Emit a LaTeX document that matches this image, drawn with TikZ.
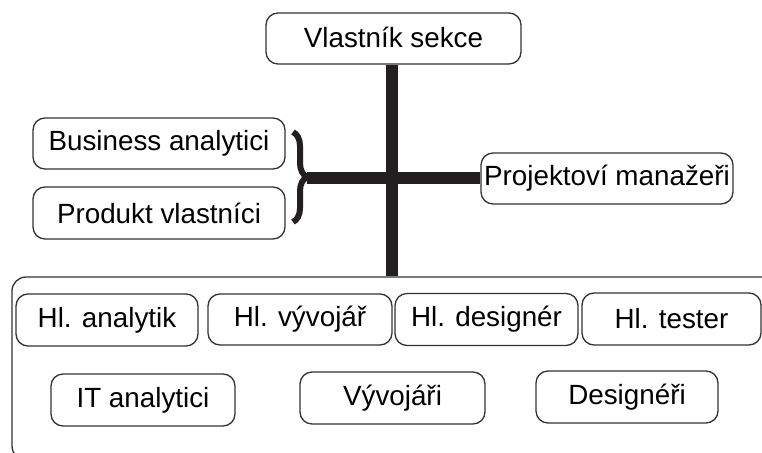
\documentclass[tikz,border=0pt]{standalone}
\usepackage{fontspec}
\setmainfont{Liberation Sans}
\usetikzlibrary{decorations.pathreplacing}
\definecolor{edge}{HTML}{333333}
\definecolor{bar}{HTML}{231F20}
\begin{document}
\begin{tikzpicture}[x=1pt,y=-1pt,
  role/.style={draw=edge, line width=1.3pt, rounded corners=12pt, fill=white,
    inner sep=0pt, font=\fontsize{27.8}{32}\selectfont, text=black},
  link/.style={draw=bar, line width=12pt},
  bracket/.style={draw=bar, line width=6pt,
    decorate, decoration={brace, amplitude=14pt}}]
\useasboundingbox (0,0) rectangle (762,452);
\clip (0,0) rectangle (762,452);

% team container, running past the right and bottom edges
\node[draw=edge, line width=1.3pt, rounded corners=14pt, inner sep=0pt,
  minimum width=778pt, minimum height=183pt] (team) at (401,368.5) {};

% top level
\node[role, minimum width=255pt, minimum height=51pt] (owner) at (393.5,38.5) {\raisebox{1.5pt}{Vlastník sekce}};

% side roles
\node[role, minimum width=252pt, minimum height=51pt] (ba) at (159,143.5) {Business analytici};
\node[role, minimum width=252pt, minimum height=52pt] (po) at (159,213) {Produkt vlastníci};
\node[role, minimum width=252pt, minimum height=51pt] (pm) at (607,178.5) {Projektoví manažeři};

% leads
\node[role, minimum width=182pt, minimum height=52pt] (ha) at (107,320) {Hl. analytik};
\node[role, minimum width=184pt, minimum height=51pt] (hv) at (300,319.5) {\raisebox{3pt}{Hl. vývojář}};
\node[role, minimum width=183pt, minimum height=52pt] (hd) at (486.5,319.5) {Hl. designér};
\node[role, minimum width=179pt, minimum height=52pt] (ht) at (671.5,319) {Hl. tester};

% teams
\node[role, minimum width=184pt, minimum height=52pt] (it) at (143,400) {IT analytici};
\node[role, minimum width=185pt, minimum height=52pt] (vv) at (392.5,398) {Vývojáři};
\node[role, minimum width=182pt, minimum height=52pt] (ds) at (627,397) {Designéři};

% brace grouping the two side roles
\coordinate (btop) at (293,132);
\coordinate (bbot) at (293,222);
\coordinate (btip) at (307,177.5);
\draw[bracket] (btop) -- (bbot);

% thick connectors
\draw[link] (btip) -- (btip -| pm.west);
\coordinate (stem) at (391.5,64);
\draw[link] (owner.south -| stem) -- (stem |- team.north);
\end{tikzpicture}
\end{document}
